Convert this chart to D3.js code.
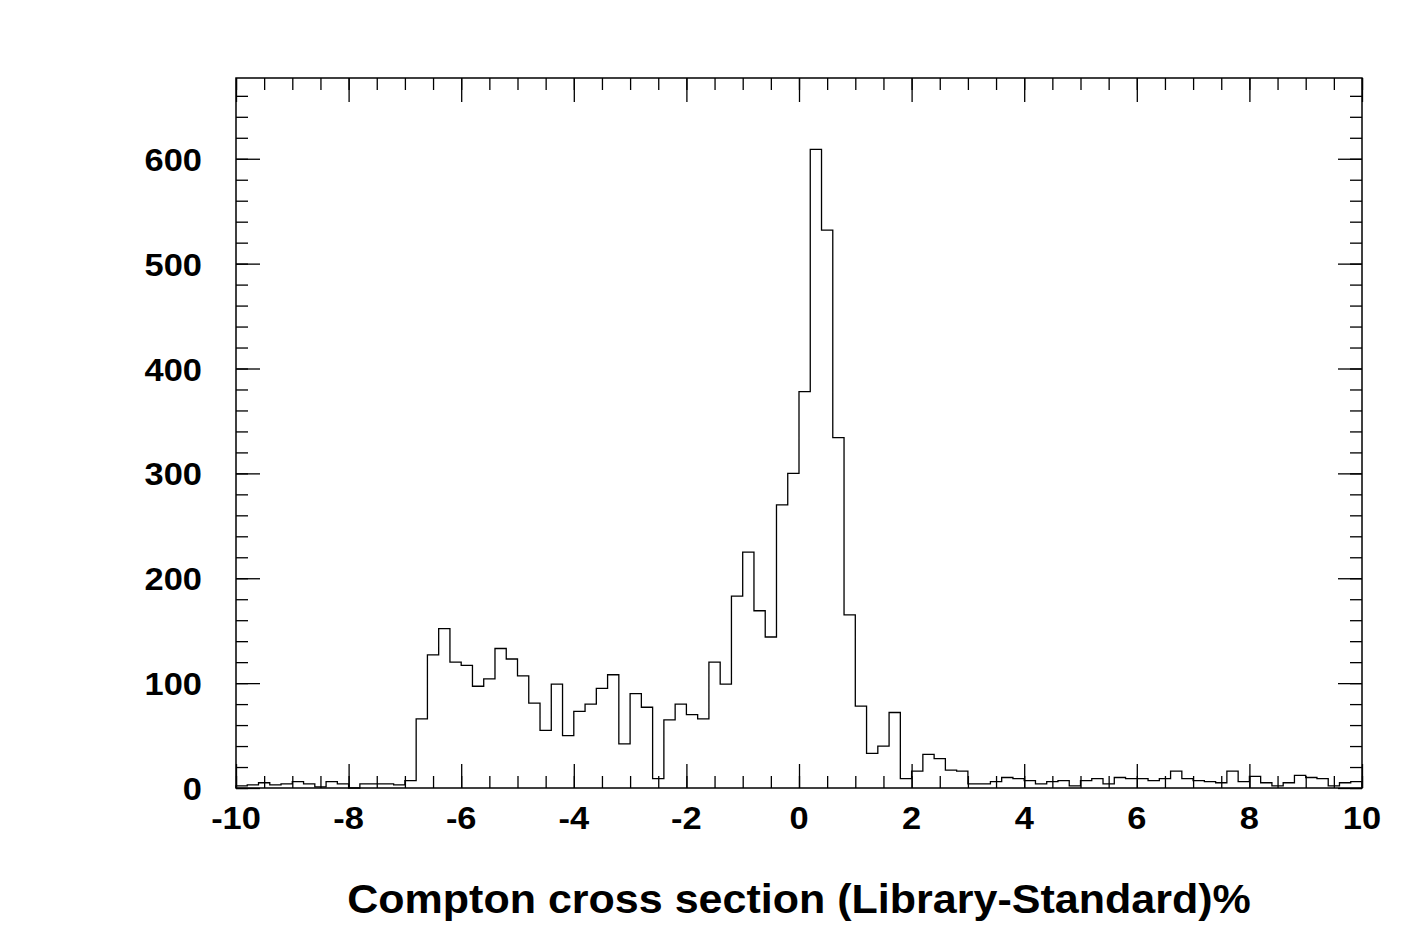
<!DOCTYPE html>
<html>
<head>
<meta charset="utf-8">
<script src="https://cdn.jsdelivr.net/npm/d3@7"></script>
<style>
  html, body { margin: 0; padding: 0; background: #fff; }
  svg { display: block; }
  text { font-family: "Liberation Sans", Arial, Helvetica, sans-serif; font-weight: bold; fill: #000; }
</style>
</head>
<body>
<svg id="chart" width="1417" height="945"></svg>
<script>
// ---- data ----
const binLow = -10, binHigh = 10, nBins = 100;
const counts = [
  2,3,5,3,4,6,4,1,6,4, 0,4,4,4,3,7,66,127,152,120,
  117,97,104,133,123,107,81,55,99,50, 73,80,95,108,42,90,77,9,65,80,
  70,66,120,99,183,225,169,144,270,300, 378,609,532,334,165,78,33,40,72,9,
  16,32,28,17,16,4,4,6,10,9, 7,4,6,7,2,7,9,4,10,9,
  9,7,9,16,9,7,6,5,16,6, 11,5,2,5,12,10,9,2,5,6
];
const xTickValues = [-10,-8,-6,-4,-2,0,2,4,6,8,10];
const yTickValues = [0,100,200,300,400,500,600];
const xTitle = "Compton cross section (Library-Standard)%";
const yMax = 677;

// ---- layout ----
const L = 236, R = 1362, T = 78, B = 788;
const SX = 1.076; // horizontal stretch of the lettering
const svg = d3.select("#chart");
const x = d3.scaleLinear().domain([binLow, binHigh]).range([L, R]);
const y = d3.scaleLinear().domain([0, yMax]).range([B, T]);

const binW = (binHigh - binLow) / nBins;

// histogram outline
const pts = [];
pts.push([binLow, 0]);
counts.forEach((c, i) => {
  const x0 = binLow + i * binW, x1 = x0 + binW;
  pts.push([x0, c]);
  pts.push([x1, c]);
});
pts.push([binHigh, 0]);
const line = d3.line().x(d => x(d[0])).y(d => y(d[1]));
svg.append("path").attr("d", line(pts))
  .attr("fill", "none").attr("stroke", "#000").attr("stroke-width", 1.3);

// axes: ticks on all four sides, inward
const xMinor = d3.range(-10, 10.001, 0.5);
const yMinor = d3.range(0, yMax, 20);
function addAxis(gen, tx, ty) {
  const g = svg.append("g").attr("transform", `translate(${tx},${ty})`).call(gen);
  g.selectAll(".domain").remove();
  g.selectAll("line").attr("stroke", "#000").attr("stroke-width", 1.3);
  return g;
}
addAxis(d3.axisTop(x).tickValues(xMinor).tickSize(12).tickFormat(""), 0, B);
addAxis(d3.axisTop(x).tickValues(xTickValues).tickSize(24).tickFormat(""), 0, B);
addAxis(d3.axisBottom(x).tickValues(xMinor).tickSize(12).tickFormat(""), 0, T);
addAxis(d3.axisBottom(x).tickValues(xTickValues).tickSize(24).tickFormat(""), 0, T);
addAxis(d3.axisRight(y).tickValues(yMinor).tickSize(12).tickFormat(""), L, 0);
addAxis(d3.axisRight(y).tickValues(yTickValues).tickSize(24).tickFormat(""), L, 0);
addAxis(d3.axisLeft(y).tickValues(yMinor).tickSize(12).tickFormat(""), R, 0);
addAxis(d3.axisLeft(y).tickValues(yTickValues).tickSize(24).tickFormat(""), R, 0);

// frame
svg.append("rect").attr("x", L).attr("y", T).attr("width", R - L).attr("height", B - T)
  .attr("fill", "none").attr("stroke", "#000").attr("stroke-width", 1.5);

// tick labels
svg.append("g").selectAll("text").data(xTickValues).join("text")
  .attr("transform", d => `translate(${x(d)},829) scale(${SX},1)`)
  .attr("text-anchor", "middle").attr("font-size", 32)
  .text(d => d);
svg.append("g").selectAll("text").data(yTickValues).join("text")
  .attr("transform", d => `translate(202,${y(d) + 12}) scale(${SX},1)`)
  .attr("text-anchor", "end").attr("font-size", 32)
  .text(d => d);

// axis title
svg.append("text")
  .attr("transform", `translate(${(L + R) / 2},913) scale(${SX},1)`)
  .attr("text-anchor", "middle").attr("font-size", 40)
  .text(xTitle);
</script>
</body>
</html>
